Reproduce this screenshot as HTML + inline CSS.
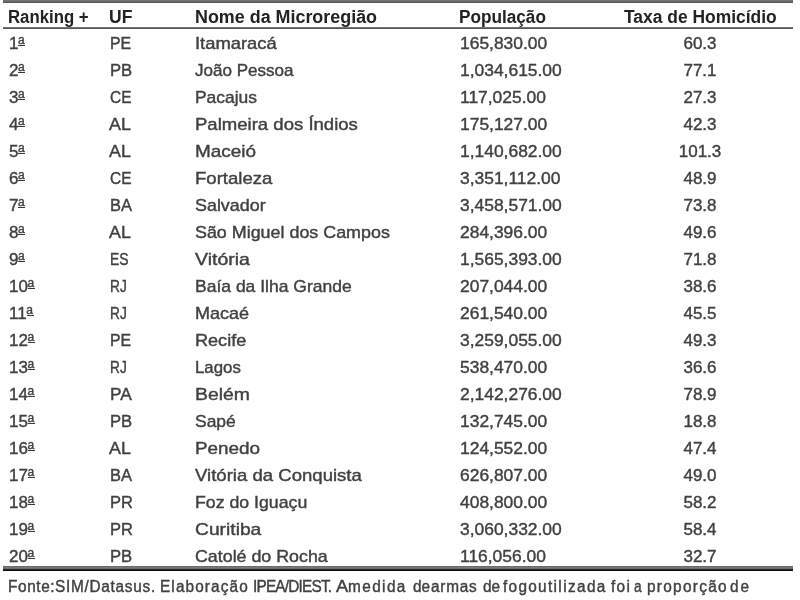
<!DOCTYPE html><html><head><meta charset='utf-8'><style>
html,body{margin:0;padding:0;background:#fff;width:800px;height:600px;overflow:hidden}
body{position:relative;font-family:"Liberation Sans",sans-serif;color:#404040}
#w{position:absolute;left:0;top:0;width:800px;height:600px;filter:blur(0.35px)}
.c{-webkit-text-stroke:0.4px #404040}
.c{position:absolute;white-space:nowrap;font-size:17px;line-height:17px;height:17px;transform-origin:0 0}
.h{font-weight:bold;color:#222;-webkit-text-stroke:0}
.ln{position:absolute;left:3px;width:790px}
.ctr{text-align:center;width:120px;transform-origin:50% 0}
.o{position:relative;display:inline-block;width:8px;height:1px}
.o i{position:absolute;left:-0.5px;top:-14px;font-style:normal;font-weight:normal;font-size:12px;line-height:12px}
.o b{position:absolute;left:0px;width:7px;top:-2.6px;height:1.4px;background:#3a3a3a}
</style></head><body><div id='w'>
<div class='ln' style='top:0px;height:2.5px;background:linear-gradient(#7a7a7a,#6a6a6a 50%,#4a4a4a)'></div>
<div class='ln' style='top:26.8px;height:2.7px;background:linear-gradient(#8a8a8a,#4e4e4e 65%,#6a6a6a)'></div>
<div class='ln' style='top:566px;height:5px;background:linear-gradient(#5e5e5e,#7c7c7c 25%,#6c6c6c 50%,#1a1a1a 75%,#000)'></div>
<div class='c h' style='left:8.0px;top:8.5px;transform:scaleX(0.932);font-size:18px;'>Ranking +</div>
<div class='c h' style='left:108.5px;top:8.5px;transform:scaleX(0.9734);font-size:18px;'>UF</div>
<div class='c h' style='left:194.5px;top:8.5px;transform:scaleX(0.9944);font-size:18px;'>Nome da Microregião</div>
<div class='c h' style='left:459.0px;top:8.5px;transform:scaleX(0.9551);font-size:18px;'>População</div>
<div class='c h' style='left:624.0px;top:8.5px;transform:scaleX(0.9682);font-size:18px;'>Taxa de Homicídio</div>
<div class='c' style='left:9px;top:34.5px;'>1<span class='o'><i>a</i><b></b></span></div>
<div class='c' style='left:109.5px;top:34.5px;transform:scaleX(0.935);'>PE</div>
<div class='c' style='left:195px;top:34.5px;transform:scaleX(1.081);'>Itamaracá</div>
<div class='c' style='left:460px;top:34.5px;transform:scaleX(1.025);'>165,830.00</div>
<div class='c ctr' style='left:640px;top:34.5px;'>60.3</div>
<div class='c' style='left:9px;top:61.5px;'>2<span class='o'><i>a</i><b></b></span></div>
<div class='c' style='left:109.5px;top:61.5px;transform:scaleX(0.98);'>PB</div>
<div class='c' style='left:195px;top:61.5px;transform:scaleX(1.003);'>João Pessoa</div>
<div class='c' style='left:460px;top:61.5px;transform:scaleX(1.025);'>1,034,615.00</div>
<div class='c ctr' style='left:640px;top:61.5px;'>77.1</div>
<div class='c' style='left:9px;top:88.5px;'>3<span class='o'><i>a</i><b></b></span></div>
<div class='c' style='left:109.5px;top:88.5px;transform:scaleX(0.91);'>CE</div>
<div class='c' style='left:195px;top:88.5px;transform:scaleX(1.025);'>Pacajus</div>
<div class='c' style='left:460px;top:88.5px;transform:scaleX(1.025);'>117,025.00</div>
<div class='c ctr' style='left:640px;top:88.5px;'>27.3</div>
<div class='c' style='left:9px;top:115.5px;'>4<span class='o'><i>a</i><b></b></span></div>
<div class='c' style='left:109.3px;top:115.5px;transform:scaleX(1.05);'>AL</div>
<div class='c' style='left:195px;top:115.5px;transform:scaleX(1.091);'>Palmeira dos Índios</div>
<div class='c' style='left:460px;top:115.5px;transform:scaleX(1.025);'>175,127.00</div>
<div class='c ctr' style='left:640px;top:115.5px;'>42.3</div>
<div class='c' style='left:9px;top:142.5px;'>5<span class='o'><i>a</i><b></b></span></div>
<div class='c' style='left:109.3px;top:142.5px;transform:scaleX(1.05);'>AL</div>
<div class='c' style='left:195px;top:142.5px;transform:scaleX(1.113);'>Maceió</div>
<div class='c' style='left:460px;top:142.5px;transform:scaleX(1.025);'>1,140,682.00</div>
<div class='c ctr' style='left:640px;top:142.5px;'>101.3</div>
<div class='c' style='left:9px;top:169.5px;'>6<span class='o'><i>a</i><b></b></span></div>
<div class='c' style='left:109.5px;top:169.5px;transform:scaleX(0.91);'>CE</div>
<div class='c' style='left:195px;top:169.5px;transform:scaleX(1.093);'>Fortaleza</div>
<div class='c' style='left:460px;top:169.5px;transform:scaleX(1.025);'>3,351,112.00</div>
<div class='c ctr' style='left:640px;top:169.5px;'>48.9</div>
<div class='c' style='left:9px;top:196.5px;'>7<span class='o'><i>a</i><b></b></span></div>
<div class='c' style='left:109.5px;top:196.5px;transform:scaleX(0.97);'>BA</div>
<div class='c' style='left:195px;top:196.5px;transform:scaleX(1.053);'>Salvador</div>
<div class='c' style='left:460px;top:196.5px;transform:scaleX(1.025);'>3,458,571.00</div>
<div class='c ctr' style='left:640px;top:196.5px;'>73.8</div>
<div class='c' style='left:9px;top:223.5px;'>8<span class='o'><i>a</i><b></b></span></div>
<div class='c' style='left:109.3px;top:223.5px;transform:scaleX(1.05);'>AL</div>
<div class='c' style='left:195px;top:223.5px;transform:scaleX(1.052);'>São Miguel dos Campos</div>
<div class='c' style='left:460px;top:223.5px;transform:scaleX(1.025);'>284,396.00</div>
<div class='c ctr' style='left:640px;top:223.5px;'>49.6</div>
<div class='c' style='left:9px;top:250.5px;'>9<span class='o'><i>a</i><b></b></span></div>
<div class='c' style='left:109.5px;top:250.5px;transform:scaleX(0.815);'>ES</div>
<div class='c' style='left:195px;top:250.5px;transform:scaleX(1.146);'>Vitória</div>
<div class='c' style='left:460px;top:250.5px;transform:scaleX(1.025);'>1,565,393.00</div>
<div class='c ctr' style='left:640px;top:250.5px;'>71.8</div>
<div class='c' style='left:9px;top:277.5px;'>10<span class='o'><i>a</i><b></b></span></div>
<div class='c' style='left:109.5px;top:277.5px;transform:scaleX(0.805);'>RJ</div>
<div class='c' style='left:195px;top:277.5px;transform:scaleX(1.03);'>Baía da Ilha Grande</div>
<div class='c' style='left:460px;top:277.5px;transform:scaleX(1.025);'>207,044.00</div>
<div class='c ctr' style='left:640px;top:277.5px;'>38.6</div>
<div class='c' style='left:9px;top:304.5px;'>11<span class='o'><i>a</i><b></b></span></div>
<div class='c' style='left:109.5px;top:304.5px;transform:scaleX(0.805);'>RJ</div>
<div class='c' style='left:195px;top:304.5px;transform:scaleX(1.061);'>Macaé</div>
<div class='c' style='left:460px;top:304.5px;transform:scaleX(1.025);'>261,540.00</div>
<div class='c ctr' style='left:640px;top:304.5px;'>45.5</div>
<div class='c' style='left:9px;top:331.5px;'>12<span class='o'><i>a</i><b></b></span></div>
<div class='c' style='left:109.5px;top:331.5px;transform:scaleX(0.935);'>PE</div>
<div class='c' style='left:195px;top:331.5px;transform:scaleX(1.064);'>Recife</div>
<div class='c' style='left:460px;top:331.5px;transform:scaleX(1.025);'>3,259,055.00</div>
<div class='c ctr' style='left:640px;top:331.5px;'>49.3</div>
<div class='c' style='left:9px;top:358.5px;'>13<span class='o'><i>a</i><b></b></span></div>
<div class='c' style='left:109.5px;top:358.5px;transform:scaleX(0.805);'>RJ</div>
<div class='c' style='left:195px;top:358.5px;transform:scaleX(0.989);'>Lagos</div>
<div class='c' style='left:460px;top:358.5px;transform:scaleX(1.025);'>538,470.00</div>
<div class='c ctr' style='left:640px;top:358.5px;'>36.6</div>
<div class='c' style='left:9px;top:385.5px;'>14<span class='o'><i>a</i><b></b></span></div>
<div class='c' style='left:109.7px;top:385.5px;transform:scaleX(1.02);'>PA</div>
<div class='c' style='left:195px;top:385.5px;transform:scaleX(1.141);'>Belém</div>
<div class='c' style='left:460px;top:385.5px;transform:scaleX(1.025);'>2,142,276.00</div>
<div class='c ctr' style='left:640px;top:385.5px;'>78.9</div>
<div class='c' style='left:9px;top:412.5px;'>15<span class='o'><i>a</i><b></b></span></div>
<div class='c' style='left:109.5px;top:412.5px;transform:scaleX(0.98);'>PB</div>
<div class='c' style='left:195px;top:412.5px;transform:scaleX(1.026);'>Sapé</div>
<div class='c' style='left:460px;top:412.5px;transform:scaleX(1.025);'>132,745.00</div>
<div class='c ctr' style='left:640px;top:412.5px;'>18.8</div>
<div class='c' style='left:9px;top:439.5px;'>16<span class='o'><i>a</i><b></b></span></div>
<div class='c' style='left:109.3px;top:439.5px;transform:scaleX(1.05);'>AL</div>
<div class='c' style='left:195px;top:439.5px;transform:scaleX(1.11);'>Penedo</div>
<div class='c' style='left:460px;top:439.5px;transform:scaleX(1.025);'>124,552.00</div>
<div class='c ctr' style='left:640px;top:439.5px;'>47.4</div>
<div class='c' style='left:9px;top:466.5px;'>17<span class='o'><i>a</i><b></b></span></div>
<div class='c' style='left:109.5px;top:466.5px;transform:scaleX(0.97);'>BA</div>
<div class='c' style='left:195px;top:466.5px;transform:scaleX(1.092);'>Vitória da Conquista</div>
<div class='c' style='left:460px;top:466.5px;transform:scaleX(1.025);'>626,807.00</div>
<div class='c ctr' style='left:640px;top:466.5px;'>49.0</div>
<div class='c' style='left:9px;top:493.5px;'>18<span class='o'><i>a</i><b></b></span></div>
<div class='c' style='left:109.5px;top:493.5px;transform:scaleX(0.97);'>PR</div>
<div class='c' style='left:195px;top:493.5px;transform:scaleX(1.042);'>Foz do Iguaçu</div>
<div class='c' style='left:460px;top:493.5px;transform:scaleX(1.025);'>408,800.00</div>
<div class='c ctr' style='left:640px;top:493.5px;'>58.2</div>
<div class='c' style='left:9px;top:520.5px;'>19<span class='o'><i>a</i><b></b></span></div>
<div class='c' style='left:109.5px;top:520.5px;transform:scaleX(0.97);'>PR</div>
<div class='c' style='left:195px;top:520.5px;transform:scaleX(1.132);'>Curitiba</div>
<div class='c' style='left:460px;top:520.5px;transform:scaleX(1.025);'>3,060,332.00</div>
<div class='c ctr' style='left:640px;top:520.5px;'>58.4</div>
<div class='c' style='left:9px;top:547.5px;'>20<span class='o'><i>a</i><b></b></span></div>
<div class='c' style='left:109.5px;top:547.5px;transform:scaleX(0.98);'>PB</div>
<div class='c' style='left:195px;top:547.5px;transform:scaleX(1.048);'>Catolé do Rocha</div>
<div class='c' style='left:460px;top:547.5px;transform:scaleX(1.025);'>116,056.00</div>
<div class='c ctr' style='left:640px;top:547.5px;'>32.7</div>
<div class='c' style='left:7.75px;top:578px;transform:scaleX(0.96);font-size:16px;letter-spacing:0.625px;'>Fonte:</div>
<div class='c' style='left:55.25px;top:578px;transform:scaleX(0.96);font-size:16px;letter-spacing:0.758px;'>SIM/Datasus.</div>
<div class='c' style='left:159.5px;top:578px;transform:scaleX(0.96);font-size:16px;letter-spacing:1.157px;'>Elaboração</div>
<div class='c' style='left:252.75px;top:578px;transform:scaleX(0.96);font-size:16px;letter-spacing:-0.833px;'>IPEA/DIEST.</div>
<div class='c' style='left:336.25px;top:578px;transform:scaleX(1.1373);font-size:16px;letter-spacing:0.0px;'>A</div>
<div class='c' style='left:347.75px;top:578px;transform:scaleX(0.96);font-size:16px;letter-spacing:1.458px;'>medida</div>
<div class='c' style='left:412.5px;top:578px;transform:scaleX(0.96);font-size:16px;letter-spacing:-0.001px;'>de</div>
<div class='c' style='left:431.25px;top:578px;transform:scaleX(0.96);font-size:16px;letter-spacing:0.781px;'>armas</div>
<div class='c' style='left:482.5px;top:578px;transform:scaleX(0.96);font-size:16px;letter-spacing:-0.001px;'>de</div>
<div class='c' style='left:502.5px;top:578px;transform:scaleX(0.96);font-size:16px;letter-spacing:1.389px;'>fogo</div>
<div class='c' style='left:537.75px;top:578px;transform:scaleX(0.96);font-size:16px;letter-spacing:1.433px;'>utilizada</div>
<div class='c' style='left:611.0px;top:578px;transform:scaleX(0.96);font-size:16px;letter-spacing:1.353px;'>foi</div>
<div class='c' style='left:634.0px;top:578px;transform:scaleX(0.8593);font-size:16px;letter-spacing:0.0px;'>a</div>
<div class='c' style='left:647px;top:578px;transform:scaleX(0.96);font-size:16px;letter-spacing:1.354px;'>proporção</div>
<div class='c' style='left:730px;top:578px;transform:scaleX(0.96);font-size:16px;letter-spacing:2.083px;'>de</div>
</div></body></html>
